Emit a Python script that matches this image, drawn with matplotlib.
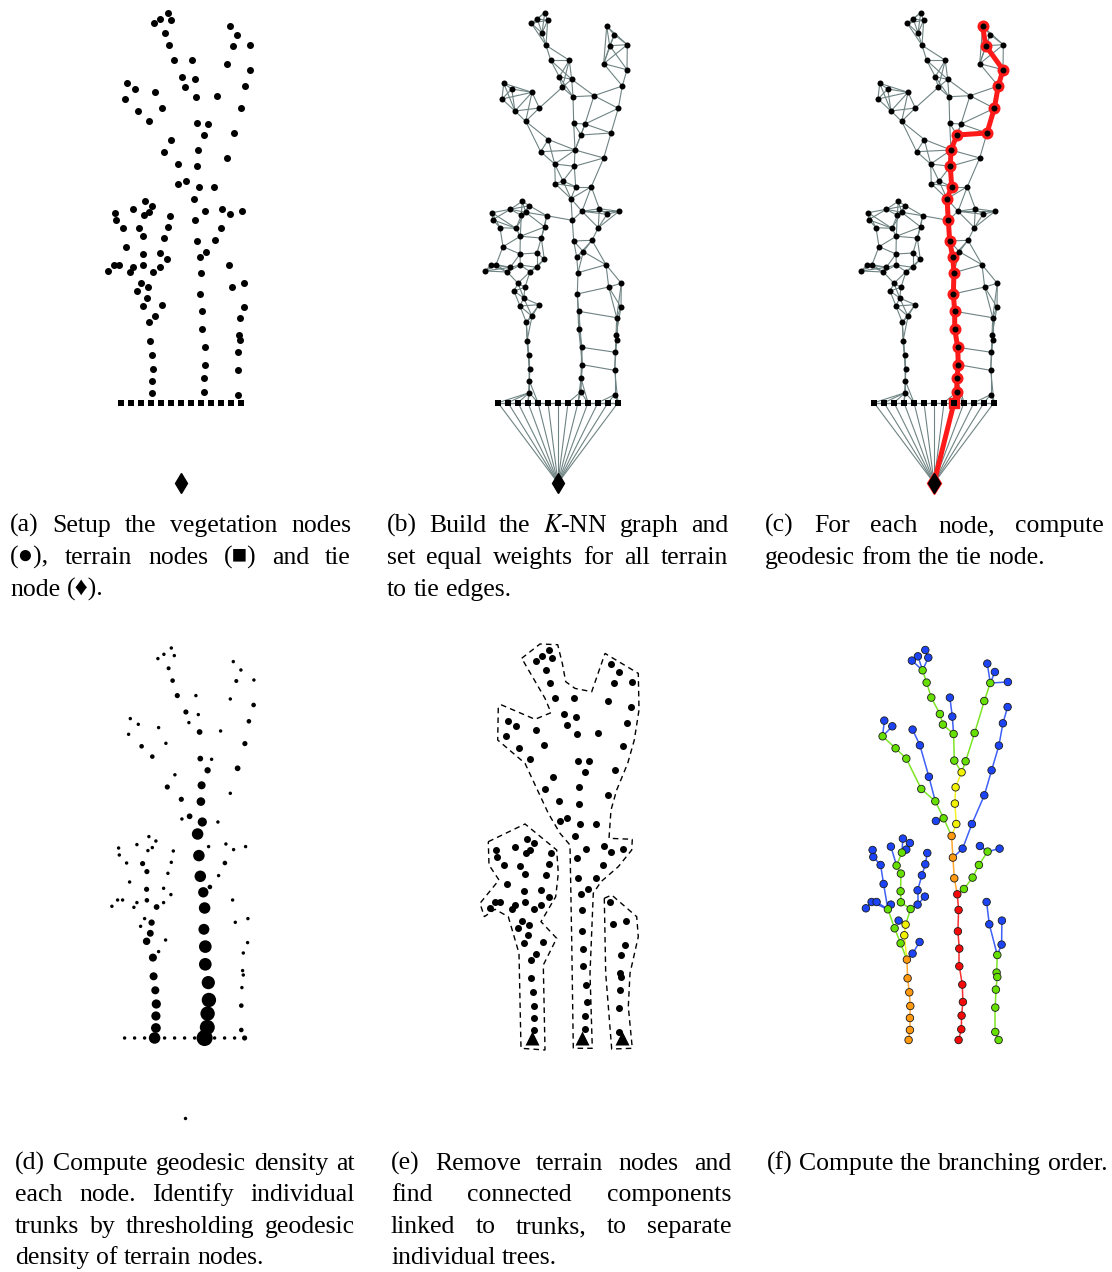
import matplotlib
matplotlib.use("Agg")
import matplotlib.pyplot as plt
from matplotlib.collections import LineCollection
from matplotlib.patches import Polygon
import numpy as np

plt.rcParams["font.family"] = ["Liberation Serif", "DejaVu Sans"]
plt.rcParams["mathtext.fontset"] = "stix"

W, H = 1112, 1272
FS = 18.5

# ── point cloud (pixel coords of panel a), vegetation node id = index + 1 ──
VEG_X = [167.7, 160.3, 154.3, 170.7, 165.0, 169.0, 229.7, 237.3, 232.7, 250.3,
         173.7, 192.3, 226.7, 250.0, 126.7, 134.7, 125.0, 155.0, 182.3, 194.7,
         185.3, 196.0, 217.0, 245.3, 138.0, 162.3, 241.3, 148.7, 196.7, 208.0,
         204.0, 234.0, 171.3, 163.7, 198.0, 226.7, 177.7, 197.3, 178.3, 186.0,
         198.7, 214.3, 194.0, 145.3, 152.3, 133.3, 115.0, 148.7, 144.3, 169.7,
         205.0, 222.3, 230.0, 242.0, 115.7, 123.0, 139.0, 167.7, 195.3, 221.3,
         143.3, 164.3, 196.7, 215.0, 126.0, 143.0, 160.0, 206.3, 199.7, 167.3,
         114.0, 119.0, 108.3, 133.3, 130.3, 143.3, 160.0, 153.0, 201.0, 229.0,
         141.0, 148.0, 137.0, 146.7, 143.0, 162.0, 155.0, 149.3, 200.3, 201.7,
         201.7, 204.7, 205.3, 204.0, 203.7, 231.7, 244.3, 244.0, 239.7, 239.0,
         239.7, 238.3, 237.7, 237.7, 150.0, 151.7, 152.7, 152.3, 152.3]
VEG_Y = [12.7, 19.0, 23.3, 20.3, 33.0, 45.3, 26.3, 34.7, 45.7, 44.7,
         60.3, 60.3, 63.7, 69.7, 83.3, 89.0, 99.0, 92.3, 76.7, 79.3,
         87.3, 96.7, 95.7, 86.0, 111.0, 108.0, 108.3, 121.3, 123.3, 124.0,
         135.0, 133.0, 139.5, 151.7, 150.0, 158.0, 164.0, 166.3, 183.7, 181.0,
         186.7, 186.7, 198.7, 201.3, 205.7, 209.3, 212.7, 212.3, 215.3, 215.7,
         211.3, 208.7, 214.3, 211.3, 219.7, 227.7, 228.3, 227.0, 220.3, 227.7,
         236.3, 238.0, 241.0, 240.3, 246.7, 254.0, 253.0, 251.7, 257.0, 259.3,
         264.7, 264.7, 271.0, 267.3, 272.0, 265.0, 267.3, 271.7, 272.7, 264.7,
         283.3, 287.3, 291.0, 298.0, 306.0, 304.7, 316.3, 322.3, 294.0, 311.3,
         329.0, 347.3, 364.7, 378.3, 392.0, 287.0, 283.3, 307.3, 317.7, 335.3,
         339.7, 352.3, 370.3, 394.7, 341.0, 355.0, 368.7, 380.7, 392.7]
TERRAIN_X = [121, 131, 141, 151, 161, 171, 181, 191, 201, 211, 221, 231, 241]
TERRAIN_Y = 402.7
TIE_X, TIE_Y = 181, 483

# panel (c): geodesic from the tie node
PATH_C = ["tie", "T8", 95, 94, 93, 92, 91, 90, 89, 79, 69, 63, 59, 43, 41,
          38, 35, 31, 32, 27, 24, 14, 9, 7]

# panel (d): marker diameters (px) ~ geodesic density
D_VEG = [3, 3, 3, 3, 3.5, 4, 3, 3, 3.5, 3,
         4.5, 3, 3, 4, 3, 3, 3, 3, 4.5, 3,
         3, 5, 3, 4, 4, 3, 4.5, 4, 5, 3,
         5.5, 5, 3, 4.5, 7, 3, 4.5, 7.5, 3, 5,
         8, 3, 10, 3, 3, 3, 3, 3, 3, 3,
         3, 3, 3, 3, 3, 3, 4.5, 3, 10, 4,
         4.5, 3, 10, 3, 3, 4.5, 3, 4, 9, 3,
         3, 3, 3, 3, 3, 4, 3, 5, 10, 3,
         3, 5.5, 3, 6, 6.5, 3, 3, 7, 9.5, 11,
         11, 11.5, 12.5, 12.5, 13, 3, 3, 3, 3, 3,
         3, 3, 4, 4, 7, 7, 8, 8, 8.5]
D_TERRAIN = [3, 3, 3, 10, 3, 3, 3, 3, 14, 3, 3, 3, 4.5]
D_TIE = 3

# panel (e): outlines of separated trees
HULL_MID_X = [140.3, 158.6, 176.3, 180.9, 184.3, 193.6, 210.3, 223.6, 256.9, 257.6,
              252.9, 246.3, 235.3, 229.6, 227.6, 250.9, 250.3, 236.9, 219.6, 211.9,
              208.6, 210.9, 191.9, 190.3, 188.6, 178.6, 166.9, 143.6, 116.3, 116.9,
              120.3, 153.6, 169.6, 163.6]
HULL_MID_Y = [20.9, 6.6, 7.3, 25.9, 44.3, 51.0, 54.3, 16.0, 36.0, 72.6,
              102.6, 125.9, 152.6, 172.6, 200.9, 201.9, 212.6, 229.3, 244.3, 255.9,
              335.9, 410.9, 410.9, 302.6, 207.6, 195.9, 175.9, 125.9, 102.6, 69.3,
              67.6, 81.9, 75.3, 60.9]
HULL_LEFT_X = [106.9, 143.6, 175.3, 176.9, 174.3, 159.6, 175.3, 161.9, 163.6, 139.6,
               137.6, 126.9, 113.6, 102.9, 98.6, 117.6, 107.6]
HULL_LEFT_Y = [204.3, 186.6, 212.6, 235.9, 259.3, 284.3, 300.9, 327.6, 412.6, 410.9,
               315.9, 279.3, 271.9, 279.3, 265.9, 242.6, 227.6]
HULL_RIGHT_X = [222.9, 230.3, 255.3, 256.9, 248.6, 246.9, 250.9, 230.3, 224.3]
HULL_RIGHT_Y = [260.9, 257.6, 279.3, 299.3, 335.9, 369.3, 410.9, 411.6, 335.9]
TRUNKS = ["T3", "T8", "T12"]

# panel (f): tree (child -> parent) and branching order
TREE_PARENT = {
    1: 4, 2: 5, 3: 5, 4: 5, 5: 6, 6: 11, 11: 19, 19: 21, 21: 22, 12: 20, 20: 22,
    22: 29, 29: 31, 7: 9, 8: 9, 10: 9, 9: 13, 13: 23, 23: 30, 30: 31, 31: 35,
    35: 38, 38: 41, 41: 43, 14: 24, 24: 27, 27: 32, 32: 36, 36: 42, 42: 51,
    51: 59, 15: 17, 16: 17, 17: 25, 25: 28, 28: 34, 18: 26, 26: 33, 33: 37,
    34: 37, 37: 40, 39: 40, 40: 43, 43: 59, 59: 63, 63: 69, 52: 53, 54: 53,
    53: 60, 60: 64, 64: 68, 68: 69, 69: 79, 79: 89, 89: 90, 90: 91, 91: 92,
    92: 93, 93: 94, 94: 95, 95: "T8",
    80: 96, 96: 99, 97: 98, 98: 99, 99: 100, 100: 101, 101: 102, 102: 103,
    103: 104, 104: "T12",
    44: 49, 45: 48, 48: 49, 46: 57, 49: 57, 57: 61, 61: 66, 66: 76, 76: 78,
    47: 55, 55: 56, 56: 65, 65: 75, 71: 75, 72: 75, 73: 71, 74: 75, 75: 83,
    83: 85, 85: 88, 50: 58, 58: 62, 62: 67, 67: 77, 70: 77, 77: 78, 78: 82,
    81: 82, 82: 84, 84: 88, 86: 87, 87: 88, 88: 105, 105: 106, 106: 107,
    107: 108, 108: 109, 109: "T3",
}
ORDER_RED = [69, 79, 89, 90, 91, 92, 93, 94, 95, "T8"]
ORDER_ORANGE = [43, 59, 63, 88, 105, 106, 107, 108, 109, "T3"]
ORDER_YELLOW = [31, 35, 38, 41, 82, 84]
ORDER_GREEN = [5, 6, 9, 11, 13, 17, 19, 21, 22, 23, 25, 28, 29, 30, 34, 37, 40,
               49, 53, 57, 60, 61, 64, 66, 68, 75, 76, 78, 83, 85,
               99, 100, 101, 102, 103, 104, "T12"]
ORDER_COLORS = {"blue": "#1c44f5", "green": "#66e000", "yellow": "#f2f200",
                "orange": "#ff9a10", "red": "#f50a0a"}

PANEL_OFFSET = {"a": (0, 0), "b": (377, 0), "c": (753, 0),
                "d": (3.6, 635.3), "e": (381.4, 637.4), "f": (757.6, 637.3)}

CAPTIONS = {
    "a": (10, 351, [532, 564, 596], ["(a) Setup the vegetation nodes",
                                     "(●), terrain nodes (■) and tie",
                                     "node (♦)."]),
    "b": (387, 728, [532, 564, 596], ["(b) Build the $K$-NN graph and",
                                      "set equal weights for all terrain",
                                      "to tie edges."]),
    "c": (765, 1104, [532, 564], ["(c) For each node, compute",
                                  "geodesic from the tie node."]),
    "d": (15, 355, [1170, 1201, 1233, 1264], ["(d) Compute geodesic density at",
                                              "each node. Identify individual",
                                              "trunks by thresholding geodesic",
                                              "density of terrain nodes."]),
    "e": (391, 731, [1170, 1201, 1233, 1264], ["(e) Remove terrain nodes and",
                                               "find connected components",
                                               "linked to trunks, to separate",
                                               "individual trees."]),
    "f": (767, 1106, [1170], ["(f) Compute the branching order."]),
}


def xy(n):
    if n == "tie":
        return TIE_X, TIE_Y
    if isinstance(n, str):
        return TERRAIN_X[int(n[1:])], TERRAIN_Y
    return VEG_X[n - 1], VEG_Y[n - 1]


def s_of(d):
    # px diameter -> scatter area (pt^2) at dpi 100
    return (np.asarray(d) * 0.72) ** 2


def knn_segments(k=4):
    px = np.array(VEG_X + TERRAIN_X)
    py = np.array(VEG_Y + [TERRAIN_Y] * len(TERRAIN_X))
    d = np.hypot(px[:, None] - px[None, :], py[:, None] - py[None, :])
    np.fill_diagonal(d, np.inf)
    edges = set()
    for i in range(len(px)):
        for j in np.argsort(d[i])[:k]:
            edges.add((min(i, j), max(i, j)))
    segs = [[(px[i], py[i]), (px[j], py[j])] for i, j in edges]
    segs += [[(tx, TERRAIN_Y), (TIE_X, TIE_Y)] for tx in TERRAIN_X]
    return segs


def panel_ax(fig, key):
    ox, oy = PANEL_OFFSET[key]
    x0, x1, y0, y1 = 90, 270, 0, 500
    ax = fig.add_axes([(ox + x0) / W, 1 - (oy + y1) / H, (x1 - x0) / W, (y1 - y0) / H])
    ax.set_xlim(x0, x1)
    ax.set_ylim(y1, y0)
    ax.axis("off")
    return ax


def draw_base(ax, veg_d=7, ter_d=6, tie_d=14):
    ax.scatter(VEG_X, VEG_Y, s=s_of(veg_d), c="black", lw=0, zorder=4)
    ax.scatter(TERRAIN_X, [TERRAIN_Y] * len(TERRAIN_X), s=s_of(ter_d), c="black",
               marker="s", lw=0, zorder=4)
    ax.plot(TIE_X, TIE_Y, marker="d", ms=tie_d * 0.72, color="black", zorder=4)


def caption(fig, renderer, x0, x1, baselines, lines):
    sp = fig.text(0, 0, "a a", fontsize=FS)
    nsp = fig.text(0, 0, "aa", fontsize=FS)
    space = sp.get_window_extent(renderer).width - nsp.get_window_extent(renderer).width
    sp.remove()
    nsp.remove()
    for n, (line, y) in enumerate(zip(lines, baselines)):
        words = line.split(" ")
        texts = [fig.text(0, 1 - y / H, w, fontsize=FS, va="baseline", ha="left")
                 for w in words]
        widths = [t.get_window_extent(renderer).width for t in texts]
        if n == len(lines) - 1:
            gap = space
        else:
            gap = (x1 - x0 - sum(widths)) / (len(words) - 1)
        x = x0
        for t, w in zip(texts, widths):
            t.set_x(x / W)
            x += w + gap


fig = plt.figure(figsize=(W / 100, H / 100), dpi=100, facecolor="white")

# (a)
ax = panel_ax(fig, "a")
draw_base(ax)

# (b)
segs = knn_segments()
ax = panel_ax(fig, "b")
ax.add_collection(LineCollection(segs, colors="#6f8383", linewidths=0.8, zorder=2))
draw_base(ax, veg_d=6, ter_d=6)

# (c)
ax = panel_ax(fig, "c")
ax.add_collection(LineCollection(segs, colors="#6f8383", linewidths=0.8, zorder=2))
draw_base(ax, veg_d=6, ter_d=6)
path = np.array([xy(n) for n in PATH_C])
ax.plot(path[:, 0], path[:, 1], color="#ff1a1a", lw=3.6, zorder=3,
        solid_capstyle="round", solid_joinstyle="round")
ax.scatter(path[2:, 0], path[2:, 1], s=s_of(12), c="#ff1a1a", lw=0, zorder=3)
ax.plot(TIE_X, TIE_Y, marker="d", ms=16 * 0.72, color="#ff1a1a", zorder=3)
ax.plot(path[1, 0], path[1, 1], marker="s", ms=10 * 0.72, color="#ff1a1a", zorder=3)

# (d)
ax = panel_ax(fig, "d")
ax.scatter(VEG_X, VEG_Y, s=s_of(np.array(D_VEG) * 1.15), c="black", lw=0)
ax.scatter(TERRAIN_X, [TERRAIN_Y] * len(TERRAIN_X), s=s_of(np.array(D_TERRAIN) * 1.15),
           c="black", lw=0)
ax.scatter([TIE_X], [TIE_Y], s=s_of(D_TIE * 1.15), c="black", lw=0)

# (e)
ax = panel_ax(fig, "e")
for hx, hy in [(HULL_MID_X, HULL_MID_Y), (HULL_LEFT_X, HULL_LEFT_Y),
               (HULL_RIGHT_X, HULL_RIGHT_Y)]:
    ax.add_patch(Polygon(np.column_stack([hx, hy]), closed=True, fill=False,
                         ec="black", lw=1.0, ls=(0, (4, 3))))
ax.scatter(VEG_X, VEG_Y, s=s_of(7), c="black", lw=0, zorder=4)
tr = np.array([xy(n) for n in TRUNKS])
ax.scatter(tr[:, 0], tr[:, 1] - 2, s=s_of(14), c="black", marker="^", lw=0, zorder=4)

# (f)
ax = panel_ax(fig, "f")


def order_of(n):
    for name, group in [("red", ORDER_RED), ("orange", ORDER_ORANGE),
                        ("yellow", ORDER_YELLOW), ("green", ORDER_GREEN)]:
        if n in group:
            return name
    return "blue"


for child, parent in TREE_PARENT.items():
    (cx, cy), (qx, qy) = xy(child), xy(parent)
    ax.plot([cx, qx], [cy, qy], color=ORDER_COLORS[order_of(child)], lw=1.1,
            alpha=0.85, zorder=2)
nodes = list(range(1, len(VEG_X) + 1)) + TRUNKS
nxy = np.array([xy(n) for n in nodes])
ax.scatter(nxy[:, 0], nxy[:, 1], s=s_of(7.5), c=[ORDER_COLORS[order_of(n)] for n in nodes],
           edgecolors="#1a1a1a", linewidths=0.6, zorder=3)

renderer = fig.canvas.get_renderer()
for key in "abcdef":
    x0, x1, ys, lines = CAPTIONS[key]
    caption(fig, renderer, x0, x1, ys, lines)

fig.savefig("out.png", dpi=100, facecolor="white")
